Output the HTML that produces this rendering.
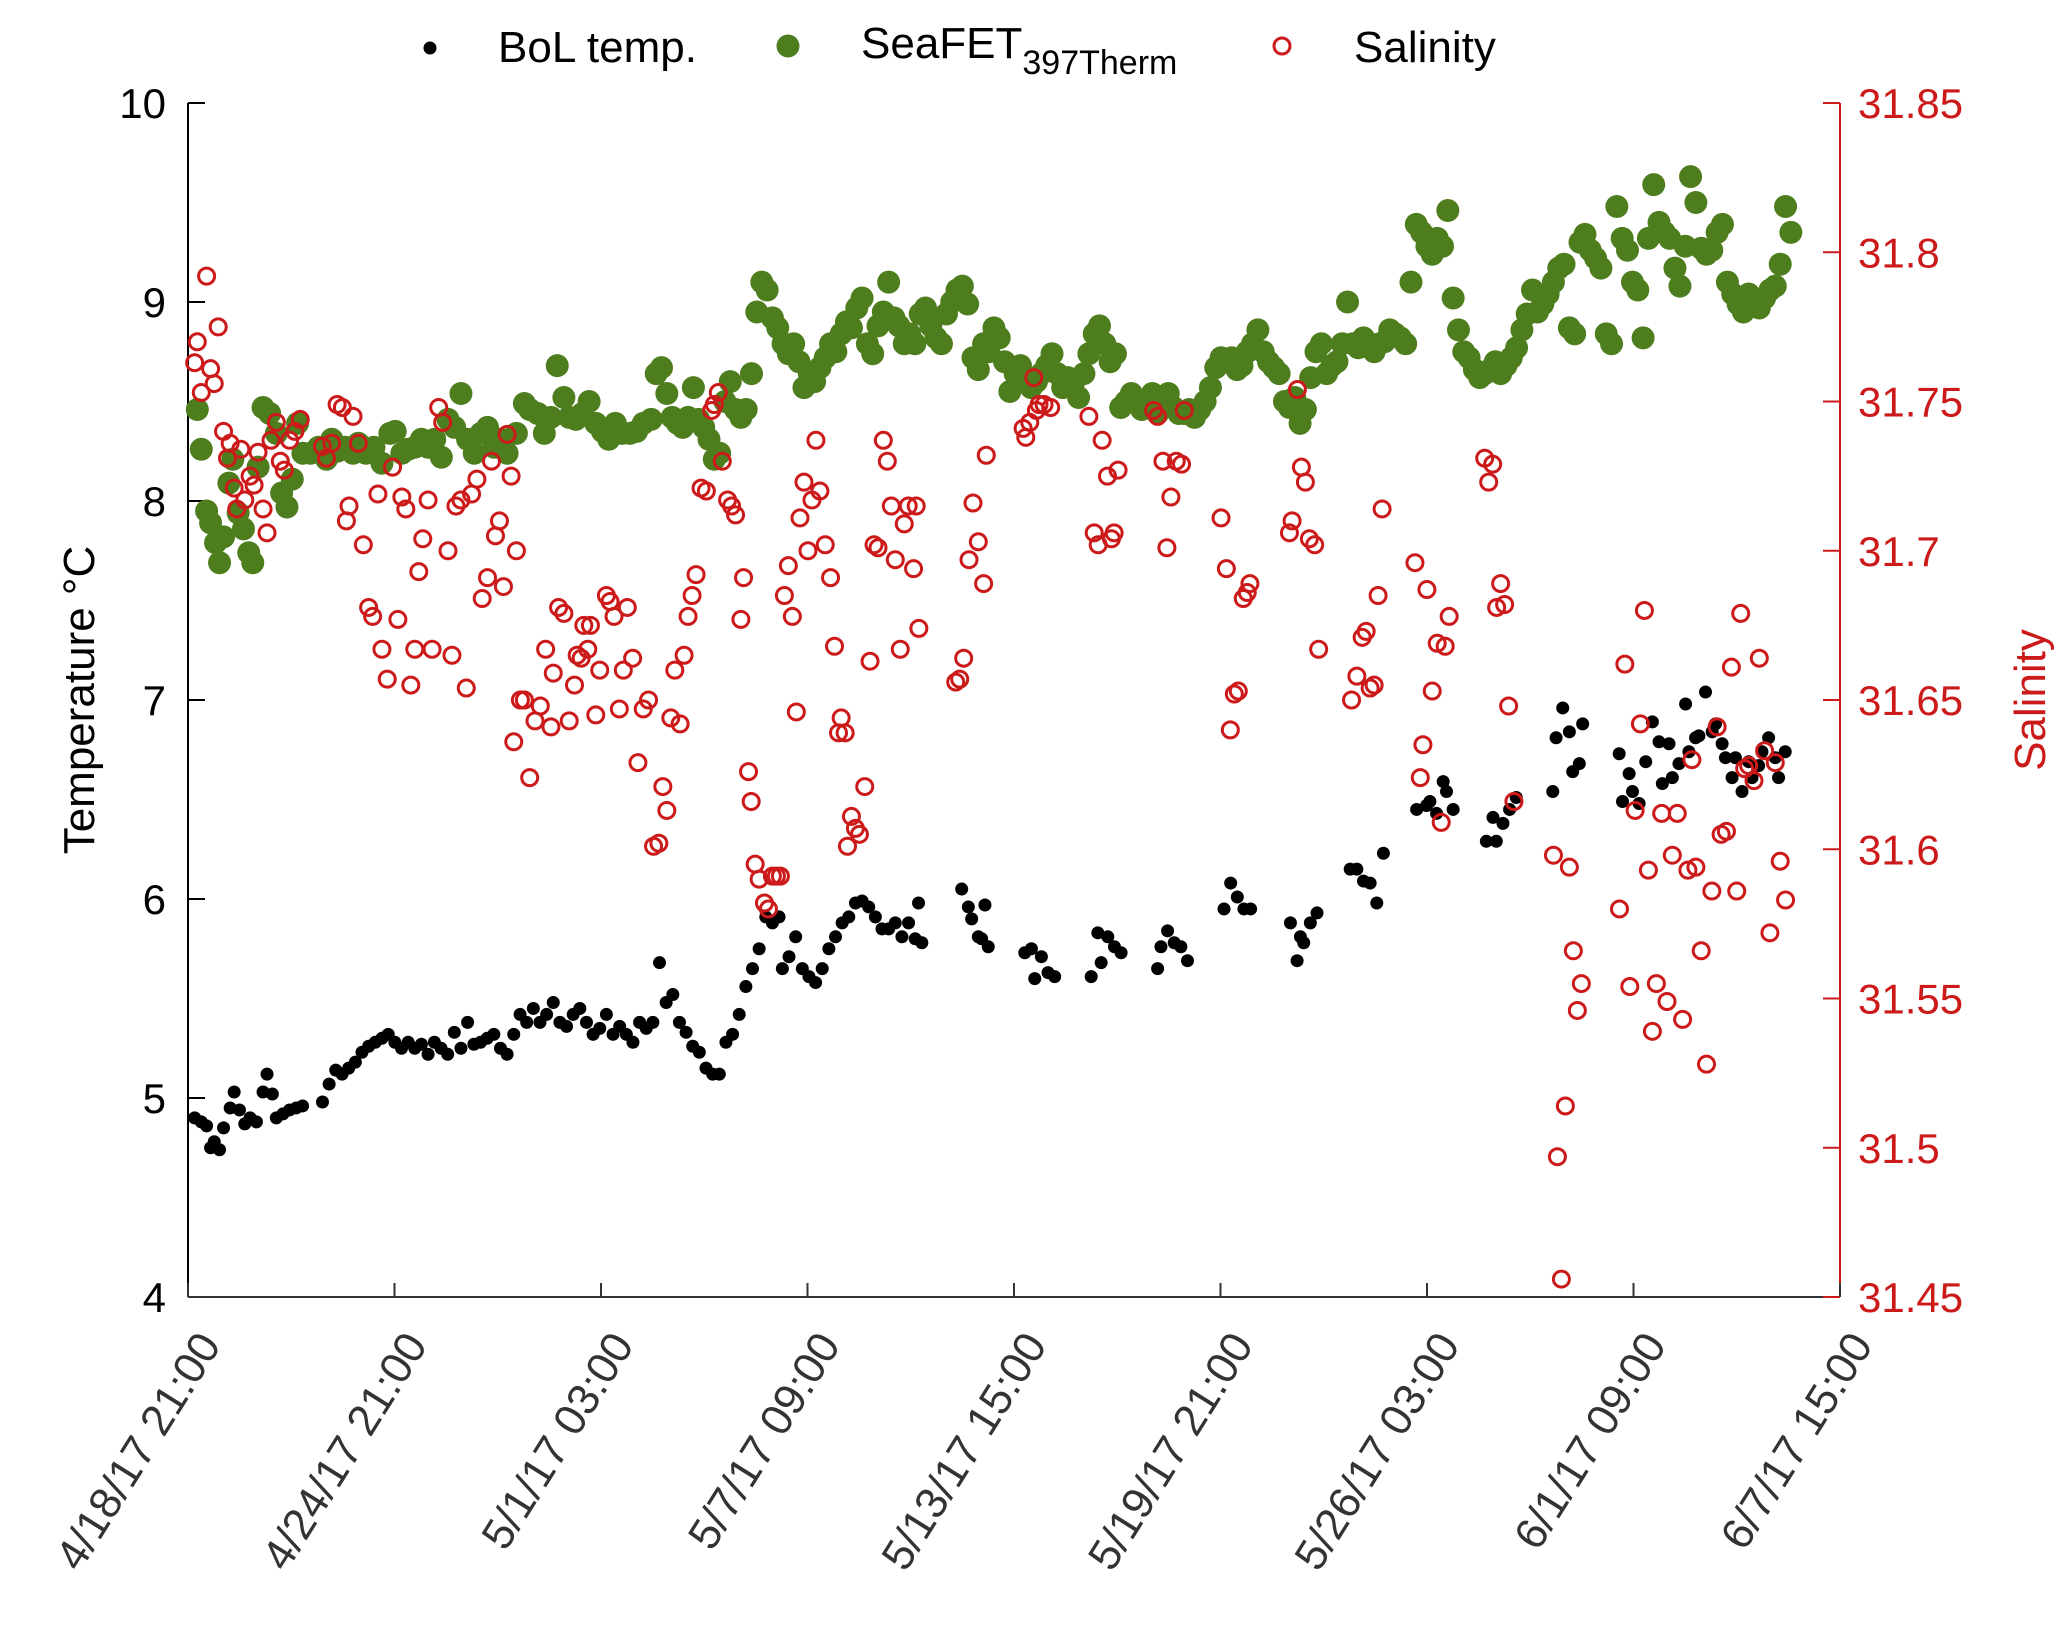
<!DOCTYPE html>
<html><head><meta charset="utf-8"><style>
html,body{margin:0;padding:0;background:#fff;}
svg{display:block;font-family:"Liberation Sans",Arial,sans-serif;}
</style></head><body>
<svg id="chart" width="2067" height="1639" viewBox="0 0 2067 1639" xmlns="http://www.w3.org/2000/svg">
<g id="legend">
<g><circle cx="430" cy="48" r="6.5" fill="#000"/><text x="498" y="62" font-size="44" fill="#000">BoL temp.</text></g>
<g><circle cx="788" cy="46" r="11.5" fill="#4e7d1e"/><text x="861" y="58" font-size="44" fill="#000">SeaFET<tspan font-size="34" dy="16">397Therm</tspan></text></g>
<g><circle cx="1282" cy="46" r="8" fill="none" stroke="#cc1a1a" stroke-width="3"/><text x="1354" y="62" font-size="44" fill="#000">Salinity</text></g>
</g>
<g id="axes"></g>
<g id="marks"></g>
</svg>
<script>
const xTickLabels=["4/18/17 21:00","4/24/17 21:00","5/1/17 03:00","5/7/17 09:00","5/13/17 15:00","5/19/17 21:00","5/26/17 03:00","6/1/17 09:00","6/7/17 15:00"];
const tempTicks=[4,5,6,7,8,9,10];
const salTicks=["31.45","31.5","31.55","31.6","31.65","31.7","31.75","31.8","31.85"];
const bolDays=[0.2,0.4,0.56,0.68,0.79,0.95,1.07,1.27,1.39,1.55,1.71,1.87,2.06,2.26,2.38,2.54,2.66,2.86,3.06,3.26,3.45,4.05,4.25,4.45,4.64,4.84,5.04,5.24,5.44,5.64,5.84,6.03,6.23,6.43,6.63,6.83,7.03,7.23,7.42,7.62,7.82,8.02,8.22,8.42,8.61,8.81,9.01,9.21,9.41,9.61,9.81,10.0,10.2,10.4,10.6,10.8,11.0,11.2,11.4,11.6,11.8,12.0,12.2,12.4,12.6,12.8,13.0,13.2,13.4,13.6,13.8,14.0,14.2,14.4,14.6,14.8,15.0,15.2,15.4,15.6,15.8,16.0,16.2,16.4,16.6,16.8,17.0,17.2,17.4,17.6,17.8,17.9,18.1,18.3,18.5,18.7,18.9,19.1,19.3,19.5,19.7,19.9,20.1,20.3,20.5,20.7,20.9,21.1,21.3,21.5,21.7,21.9,22.0,22.1,23.3,23.5,23.6,23.8,23.9,24.0,24.1,25.2,25.4,25.5,25.7,25.9,26.1,27.2,27.4,27.5,27.7,27.9,28.1,29.2,29.3,29.5,29.7,29.9,30.1,31.2,31.4,31.6,31.8,32.0,33.2,33.4,33.5,33.6,33.8,34.0,35.0,35.2,35.4,35.6,35.8,36.0,37.0,37.3,37.4,37.6,37.8,37.9,38.1,39.1,39.3,39.4,39.6,39.8,40.0,41.1,41.2,41.4,41.6,41.7,41.9,42.0,43.1,43.2,43.4,43.5,43.7,43.9,44.1,44.3,44.4,44.6,44.7,44.9,45.1,45.2,45.4,45.5,45.7,45.9,46.0,46.2,46.3,46.5,46.6,46.8,47.0,47.1,47.3,47.4,47.6,47.8,47.9,48.1];
const bolTemp=[4.90,4.88,4.86,4.75,4.78,4.74,4.85,4.95,5.03,4.94,4.87,4.90,4.88,5.03,5.12,5.02,4.90,4.92,4.94,4.95,4.96,4.98,5.07,5.14,5.12,5.15,5.18,5.23,5.26,5.28,5.30,5.32,5.28,5.25,5.28,5.25,5.27,5.22,5.28,5.25,5.22,5.33,5.25,5.38,5.27,5.28,5.30,5.32,5.25,5.22,5.32,5.42,5.38,5.45,5.38,5.42,5.48,5.38,5.36,5.42,5.45,5.38,5.32,5.35,5.42,5.32,5.36,5.32,5.28,5.38,5.35,5.38,5.68,5.48,5.52,5.38,5.33,5.26,5.23,5.15,5.12,5.12,5.28,5.32,5.42,5.56,5.65,5.75,5.91,5.88,5.91,5.65,5.71,5.81,5.65,5.61,5.58,5.65,5.75,5.81,5.88,5.91,5.98,5.99,5.96,5.91,5.85,5.85,5.88,5.81,5.88,5.80,5.98,5.78,6.05,5.96,5.90,5.81,5.80,5.97,5.76,5.73,5.75,5.60,5.71,5.63,5.61,5.61,5.83,5.68,5.81,5.76,5.73,5.65,5.76,5.84,5.78,5.76,5.69,5.95,6.08,6.01,5.95,5.95,5.88,5.69,5.81,5.78,5.88,5.93,6.15,6.15,6.09,6.08,5.98,6.23,6.45,6.47,6.49,6.43,6.59,6.54,6.45,6.29,6.41,6.29,6.38,6.45,6.51,6.54,6.81,6.96,6.84,6.64,6.68,6.88,6.73,6.49,6.63,6.54,6.48,6.69,6.89,6.79,6.58,6.78,6.61,6.68,6.98,6.74,6.81,6.82,7.04,6.84,6.88,6.78,6.71,6.61,6.71,6.54,6.69,6.61,6.67,6.74,6.81,6.71,6.61,6.74];
const seaDays=[0.28,0.40,0.56,0.68,0.83,0.95,1.07,1.23,1.35,1.51,1.67,1.83,1.95,2.11,2.26,2.46,2.66,2.82,2.98,3.14,3.30,3.46,3.69,3.93,4.17,4.33,4.49,4.73,4.97,5.13,5.36,5.60,5.84,6.08,6.24,6.44,6.63,6.83,7.03,7.23,7.43,7.63,7.83,8.03,8.22,8.42,8.62,8.82,9.02,9.22,9.42,9.61,9.89,10.13,10.29,10.53,10.73,10.93,11.12,11.32,11.48,11.68,11.88,12.08,12.28,12.48,12.67,12.87,13.07,13.31,13.51,13.71,13.95,14.10,14.26,14.42,14.58,14.74,14.90,15.06,15.22,15.38,15.53,15.69,15.85,16.01,16.17,16.33,16.49,16.65,16.81,16.97,17.13,17.28,17.44,17.60,17.76,17.92,18.08,18.24,18.40,18.55,18.71,18.87,19.03,19.19,19.35,19.51,19.67,19.83,19.98,20.14,20.30,20.46,20.62,20.78,20.94,21.10,21.26,21.41,21.57,21.73,21.89,22.05,22.21,22.37,22.53,22.69,22.84,23.00,23.16,23.32,23.48,23.64,23.80,23.96,24.12,24.27,24.43,24.59,24.75,24.91,25.07,25.23,25.39,25.55,25.70,25.86,26.02,26.18,26.34,26.50,26.66,26.82,26.98,27.13,27.29,27.45,27.61,27.77,27.93,28.09,28.25,28.41,28.57,28.72,28.88,29.04,29.20,29.36,29.52,29.68,29.84,30.00,30.15,30.31,30.47,30.63,30.79,30.95,31.11,31.27,31.43,31.59,31.74,31.90,32.06,32.22,32.38,32.54,32.70,32.86,33.02,33.17,33.33,33.49,33.65,33.81,33.97,34.13,34.29,34.45,34.60,34.76,34.92,35.08,35.24,35.40,35.56,35.72,35.88,36.03,36.19,36.35,36.51,36.67,36.83,36.99,37.15,37.31,37.47,37.62,37.78,37.94,38.10,38.26,38.42,38.58,38.74,38.90,39.05,39.21,39.37,39.53,39.69,39.85,40.01,40.17,40.33,40.49,40.64,40.80,40.96,41.12,41.28,41.44,41.60,41.76,41.92,42.07,42.23,42.39,42.55,42.71,42.87,43.03,43.19,43.35,43.50,43.66,43.82,43.98,44.14,44.30,44.46,44.62,44.78,44.93,45.09,45.25,45.41,45.57,45.73,45.89,46.05,46.21,46.36,46.52,46.68,46.84,47.00,47.16,47.32,47.48,47.64,47.80,47.95,48.11,48.27];
const seaTemp=[8.46,8.26,7.95,7.89,7.79,7.69,7.82,8.09,8.21,7.94,7.86,7.74,7.69,8.17,8.47,8.44,8.34,8.04,7.97,8.11,8.39,8.24,8.24,8.27,8.21,8.31,8.25,8.27,8.24,8.29,8.24,8.27,8.19,8.34,8.35,8.24,8.26,8.27,8.31,8.27,8.31,8.22,8.41,8.37,8.54,8.31,8.24,8.34,8.37,8.27,8.31,8.24,8.34,8.49,8.46,8.44,8.34,8.42,8.68,8.52,8.42,8.41,8.44,8.50,8.39,8.35,8.31,8.39,8.34,8.34,8.35,8.39,8.41,8.64,8.67,8.54,8.42,8.39,8.37,8.42,8.57,8.41,8.37,8.31,8.21,8.24,8.50,8.60,8.46,8.42,8.46,8.64,8.95,9.10,9.06,8.92,8.87,8.79,8.74,8.79,8.70,8.57,8.64,8.60,8.67,8.72,8.79,8.75,8.84,8.90,8.87,8.97,9.02,8.79,8.74,8.88,8.95,9.10,8.92,8.88,8.79,8.84,8.79,8.94,8.97,8.88,8.82,8.79,8.94,9.00,9.06,9.08,8.99,8.72,8.66,8.79,8.75,8.87,8.82,8.70,8.55,8.64,8.68,8.62,8.57,8.60,8.64,8.68,8.74,8.64,8.57,8.62,8.59,8.52,8.64,8.74,8.84,8.88,8.79,8.70,8.74,8.47,8.50,8.54,8.49,8.46,8.50,8.54,8.44,8.50,8.54,8.47,8.44,8.44,8.46,8.42,8.46,8.50,8.57,8.67,8.72,8.70,8.72,8.66,8.68,8.75,8.79,8.86,8.75,8.70,8.67,8.64,8.50,8.47,8.52,8.39,8.46,8.62,8.75,8.79,8.64,8.68,8.70,8.79,9.00,8.79,8.77,8.82,8.79,8.75,8.79,8.80,8.86,8.84,8.82,8.79,9.10,9.39,9.35,9.28,9.24,9.32,9.28,9.46,9.02,8.86,8.75,8.72,8.66,8.62,8.64,8.66,8.70,8.64,8.68,8.72,8.77,8.86,8.94,9.06,8.95,8.99,9.04,9.10,9.17,9.19,8.87,8.84,9.30,9.34,9.26,9.22,9.17,8.84,8.79,9.48,9.32,9.26,9.10,9.06,8.82,9.32,9.59,9.40,9.35,9.32,9.17,9.08,9.28,9.63,9.50,9.27,9.24,9.26,9.35,9.39,9.10,9.04,8.99,8.95,9.04,8.99,8.97,9.02,9.06,9.08,9.19,9.48,9.35];
const salDays=[0.20,0.28,0.40,0.56,0.68,0.79,0.91,1.07,1.19,1.27,1.39,1.47,1.59,1.71,1.87,1.99,2.11,2.26,2.38,2.50,2.66,2.78,2.90,3.06,3.22,3.38,4.05,4.17,4.33,4.49,4.65,4.77,4.85,4.97,5.13,5.28,5.44,5.56,5.72,5.84,6.00,6.16,6.32,6.44,6.56,6.71,6.83,6.95,7.07,7.23,7.35,7.55,7.67,7.83,7.95,8.07,8.22,8.38,8.54,8.70,8.86,9.02,9.14,9.26,9.38,9.50,9.61,9.73,9.89,9.81,10.01,10.13,10.29,10.45,10.61,10.77,10.93,11.00,11.16,11.32,11.48,11.64,11.72,11.84,11.92,12.04,12.12,12.28,12.40,12.60,12.71,12.83,12.99,13.11,13.23,13.39,13.55,13.71,13.87,14.02,14.18,14.30,14.42,14.54,14.66,14.82,14.94,15.06,15.18,15.30,15.45,15.61,15.77,15.85,15.97,16.09,16.25,16.37,16.49,16.65,16.73,16.88,16.96,17.08,17.20,17.36,17.48,17.60,17.72,17.84,17.96,18.08,18.20,18.32,18.43,18.55,18.67,18.79,18.91,19.03,19.19,19.35,19.47,19.59,19.67,19.79,19.86,19.98,20.10,20.22,20.38,20.54,20.66,20.78,20.94,21.06,21.18,21.30,21.45,21.57,21.69,21.85,21.93,22.01,23.12,23.24,23.36,23.52,23.64,23.80,23.96,24.04,25.15,25.23,25.35,25.47,25.55,25.63,25.78,25.98,27.13,27.29,27.41,27.53,27.69,27.81,27.89,28.01,29.08,29.20,29.36,29.48,29.60,29.76,29.92,30.00,31.11,31.27,31.39,31.51,31.63,31.78,31.90,31.98,33.17,33.25,33.41,33.53,33.65,33.77,33.93,34.05,35.04,35.20,35.36,35.48,35.60,35.72,35.84,35.96,36.95,37.11,37.19,37.31,37.47,37.62,37.74,37.86,37.98,39.05,39.17,39.29,39.41,39.53,39.65,39.77,39.93,41.12,41.24,41.36,41.48,41.60,41.72,41.84,41.96,43.11,43.27,43.42,43.58,43.74,43.86,43.98,44.10,44.22,44.38,44.54,44.70,44.85,45.01,45.17,45.29,45.41,45.57,45.73,45.89,46.05,46.17,46.33,46.48,46.64,46.76,46.88,47.00,47.16,47.32,47.48,47.64,47.80,47.95,48.11];
const salValues=[31.763,31.770,31.753,31.792,31.761,31.756,31.775,31.740,31.731,31.736,31.721,31.714,31.734,31.717,31.725,31.722,31.733,31.714,31.706,31.737,31.743,31.730,31.727,31.737,31.740,31.744,31.735,31.731,31.736,31.749,31.748,31.710,31.715,31.745,31.736,31.702,31.681,31.678,31.719,31.667,31.657,31.728,31.677,31.718,31.714,31.655,31.667,31.693,31.704,31.717,31.667,31.748,31.743,31.700,31.665,31.715,31.717,31.654,31.719,31.724,31.684,31.691,31.730,31.705,31.710,31.688,31.739,31.725,31.700,31.636,31.650,31.650,31.624,31.643,31.648,31.667,31.641,31.659,31.681,31.679,31.643,31.655,31.665,31.664,31.675,31.667,31.675,31.645,31.660,31.685,31.683,31.678,31.647,31.660,31.681,31.664,31.629,31.647,31.650,31.601,31.602,31.621,31.613,31.644,31.660,31.642,31.665,31.678,31.685,31.692,31.721,31.720,31.747,31.749,31.753,31.730,31.717,31.715,31.712,31.677,31.691,31.626,31.616,31.595,31.590,31.582,31.580,31.591,31.591,31.591,31.685,31.695,31.678,31.646,31.711,31.723,31.700,31.717,31.737,31.720,31.702,31.691,31.668,31.639,31.644,31.639,31.601,31.611,31.607,31.605,31.621,31.663,31.702,31.701,31.737,31.730,31.715,31.697,31.667,31.709,31.715,31.694,31.715,31.674,31.656,31.657,31.664,31.697,31.716,31.703,31.689,31.732,31.741,31.738,31.743,31.758,31.747,31.749,31.749,31.748,31.745,31.706,31.702,31.737,31.725,31.704,31.706,31.727,31.747,31.745,31.730,31.701,31.718,31.730,31.729,31.747,31.711,31.694,31.640,31.652,31.653,31.684,31.686,31.689,31.706,31.710,31.754,31.728,31.723,31.704,31.702,31.667,31.650,31.658,31.671,31.673,31.654,31.655,31.685,31.714,31.696,31.624,31.635,31.687,31.653,31.669,31.609,31.668,31.678,31.731,31.723,31.729,31.681,31.689,31.682,31.648,31.616,31.598,31.497,31.456,31.514,31.594,31.566,31.546,31.555,31.580,31.662,31.554,31.613,31.642,31.680,31.593,31.539,31.555,31.612,31.549,31.598,31.612,31.543,31.593,31.630,31.594,31.566,31.528,31.586,31.641,31.605,31.606,31.661,31.586,31.679,31.627,31.628,31.623,31.664,31.633,31.572,31.629,31.596,31.583];

const X0=188,X1=1840,Y0=103,Y1=1297,DMAX=49.75;
const xS=d=>X0+d/DMAX*(X1-X0);
const yT=t=>Y1-(t-4)/6*(Y1-Y0);
const yS=s=>Y1-(s-31.45)/0.4*(Y1-Y0);
const NS="http://www.w3.org/2000/svg";
function mk(tag,attrs,parent,txt){const e=document.createElementNS(NS,tag);for(const k in attrs)e.setAttribute(k,attrs[k]);if(txt!==undefined)e.textContent=txt;parent.appendChild(e);return e;}
const axes=document.getElementById('axes'),marks=document.getElementById('marks');

let la=mk('line',{x1:X0,y1:Y0,x2:X0,y2:Y1,stroke:'#000','stroke-width':2},axes);


tempTicks.forEach(t=>{
  const y=yT(t);
  mk('line',{x1:X0,y1:y,x2:X0+17,y2:y,stroke:'#000','stroke-width':2},axes);
  const tx=mk('text',{x:X0-22,y:y+15,'font-size':42,'text-anchor':'end',fill:'#000'},axes,String(t));
  
  
});
let ra=mk('line',{x1:X1,y1:Y0,x2:X1,y2:Y1,stroke:'#cc1a1a','stroke-width':2},axes);


salTicks.forEach(s=>{
  const y=yS(parseFloat(s));
  mk('line',{x1:X1-17,y1:y,x2:X1,y2:y,stroke:'#cc1a1a','stroke-width':2},axes);
  const tx=mk('text',{x:X1+18,y:y+15,'font-size':42,fill:'#cc1a1a'},axes,s);
  
  
});
let ba=mk('line',{x1:X0,y1:Y1,x2:X1-17,y2:Y1,stroke:'#333','stroke-width':2},axes);


xTickLabels.forEach((lab,i)=>{
  const x=xS(i*DMAX/(xTickLabels.length-1));
  mk('line',{x1:x,y1:Y1,x2:x,y2:Y1-14,stroke:'#333','stroke-width':2},axes);
  const tx=mk('text',{x:0,y:0,'font-size':44,'text-anchor':'end',fill:'#333',transform:`translate(${x+34},${Y1+48}) rotate(-58)`},axes,lab);
  
  
});
let lt=mk('text',{x:0,y:0,'font-size':44,'text-anchor':'middle',fill:'#000',transform:`translate(94,700) rotate(-90)`},axes,'Temperature °C');


let rt=mk('text',{x:0,y:0,'font-size':44,'text-anchor':'middle',fill:'#cc1a1a',transform:`translate(2045,700) rotate(-90)`},axes,'Salinity');



const gS=mk('g',{},marks);


for(let i=0;i<Math.min(seaDays.length,seaTemp.length);i++){
  const c=mk('circle',{cx:xS(seaDays[i]),cy:yT(seaTemp[i]),r:11.5,fill:'#4e7d1e'},gS);
  
  
}
const gB=mk('g',{},marks);


for(let i=0;i<Math.min(bolDays.length,bolTemp.length);i++){
  const c=mk('circle',{cx:xS(bolDays[i]),cy:yT(bolTemp[i]),r:6.5,fill:'#000'},gB);
  
  
}
const gR=mk('g',{},marks);


for(let i=0;i<Math.min(salDays.length,salValues.length);i++){
  const c=mk('circle',{cx:xS(salDays[i]),cy:yS(salValues[i]),r:8,fill:'none',stroke:'#cc1a1a','stroke-width':3},gR);
  
  
}
</script>
</body></html>
